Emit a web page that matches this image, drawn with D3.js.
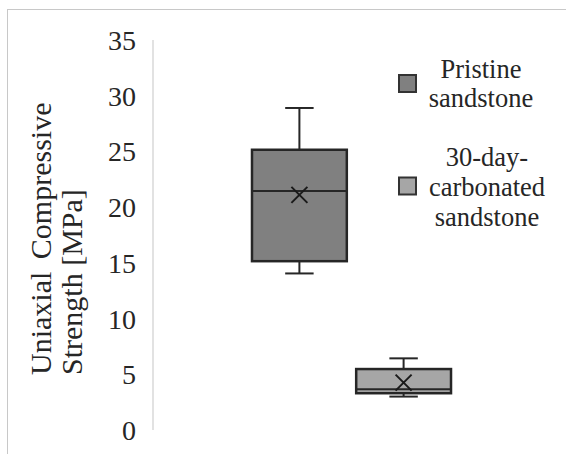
<!DOCTYPE html>
<html>
<head>
<meta charset="utf-8">
<script src="https://cdn.jsdelivr.net/npm/d3@7"></script>
<style>
  #s text { font-family: "Liberation Serif", Tinos, "Times New Roman", serif !important; }
</style>
</head>
<body style="margin:0">
<svg id="s" width="566" height="454" font-family="Liberation Serif, Tinos, Times New Roman, serif"></svg>
<script>
// ---- data ----
const seriesNames = ["Pristine sandstone", "30-day-carbonated sandstone"];
const legendLines = [["Pristine", "sandstone"], ["30-day-", "carbonated", "sandstone"]];
const whiskerMin = [14.05, 3.0];
const q1 = [15.15, 3.3];
const median = [21.45, 3.65];
const q3 = [25.15, 5.47];
const whiskerMax = [28.9, 6.43];
const mean = [21.1, 4.25];
const fills = ["#808080", "#a6a6a6"];
const yTicks = [0, 5, 10, 15, 20, 25, 30, 35];
const yTitleLines = ["Uniaxial Compressive", "Strength [MPa]"];

const FONT = "Liberation Serif, Tinos, Times New Roman, serif";
const TXT = "#262626";
const svg = d3.select("#s");

function txt(sel) {
  return sel.attr("font-family", FONT).style("font-family", FONT).attr("fill", TXT);
}

// frame border (top and left visible)
svg.append("line").attr("x1", 7).attr("x2", 566).attr("y1", 9.5).attr("y2", 9.5)
  .attr("stroke", "#c8c8c8").attr("stroke-width", 1);
svg.append("line").attr("x1", 7.5).attr("x2", 7.5).attr("y1", 9).attr("y2", 454)
  .attr("stroke", "#c8c8c8").attr("stroke-width", 1);

const y = d3.scaleLinear().domain([0, 35]).range([430, 40]);
const x = d3.scaleBand().domain(seriesNames).range([153, 550])
  .paddingInner(0.09).paddingOuter(0.95);

// y axis line
svg.append("line").attr("x1", 153).attr("x2", 153).attr("y1", y(35)).attr("y2", y(0))
  .attr("stroke", "#d9d9d9").attr("stroke-width", 1.5);
// tick labels
yTicks.forEach(v => {
  txt(svg.append("text").attr("x", 136).attr("y", y(v) + 10)
    .attr("text-anchor", "end").attr("font-size", 28))
    .text(String(v));
});

// y title
yTitleLines.forEach((line, i) => {
  txt(svg.append("text")
    .attr("transform", `translate(${51 + i * 31},375) rotate(-90)`)
    .attr("x", 0).attr("y", 0)
    .attr("text-anchor", "start").attr("font-size", 30)
    .attr("word-spacing", i === 0 ? 5 : 0))
    .text(line);
});

// boxes
const stroke = "#262626";
seriesNames.forEach((name, i) => {
  const x0 = x(name), bw = x.bandwidth(), cx = x0 + bw / 2;
  const capHalf = bw * 0.15;
  svg.append("line").attr("x1", cx).attr("x2", cx).attr("y1", y(whiskerMax[i])).attr("y2", y(q3[i]))
    .attr("stroke", stroke).attr("stroke-width", 2);
  svg.append("line").attr("x1", cx).attr("x2", cx).attr("y1", y(q1[i])).attr("y2", y(whiskerMin[i]))
    .attr("stroke", stroke).attr("stroke-width", 2);
  svg.append("line").attr("x1", cx - capHalf).attr("x2", cx + capHalf)
    .attr("y1", y(whiskerMax[i])).attr("y2", y(whiskerMax[i]))
    .attr("stroke", stroke).attr("stroke-width", 2);
  svg.append("line").attr("x1", cx - capHalf).attr("x2", cx + capHalf)
    .attr("y1", y(whiskerMin[i])).attr("y2", y(whiskerMin[i]))
    .attr("stroke", stroke).attr("stroke-width", 2);
  svg.append("rect").attr("x", x0).attr("width", bw)
    .attr("y", y(q3[i])).attr("height", y(q1[i]) - y(q3[i]))
    .attr("fill", fills[i]).attr("stroke", stroke).attr("stroke-width", 2.5);
  svg.append("line").attr("x1", x0).attr("x2", x0 + bw)
    .attr("y1", y(median[i])).attr("y2", y(median[i]))
    .attr("stroke", stroke).attr("stroke-width", 2);
  const my = y(mean[i]), s = 8;
  svg.append("path")
    .attr("d", `M${cx - s},${my - s}L${cx + s},${my + s}M${cx - s},${my + s}L${cx + s},${my - s}`)
    .attr("stroke", "#1a1a1a").attr("stroke-width", 2).attr("fill", "none");
});

// legend
const legendSquareY = [75, 177.5];
const legendTextX = [481, 487];
const legendBaseY = [78, 166];
const legendLineH = [29, 30];
seriesNames.forEach((name, i) => {
  svg.append("rect").attr("x", 399).attr("y", legendSquareY[i])
    .attr("width", 17).attr("height", 17)
    .attr("fill", fills[i]).attr("stroke", "#333").attr("stroke-width", 2);
  legendLines[i].forEach((line, j) => {
    txt(svg.append("text").attr("text-anchor", "middle")
      .attr("x", legendTextX[i]).attr("y", legendBaseY[i] + j * legendLineH[i])
      .attr("font-size", 26.5))
      .text(line);
  });
});
</script>
</body>
</html>
